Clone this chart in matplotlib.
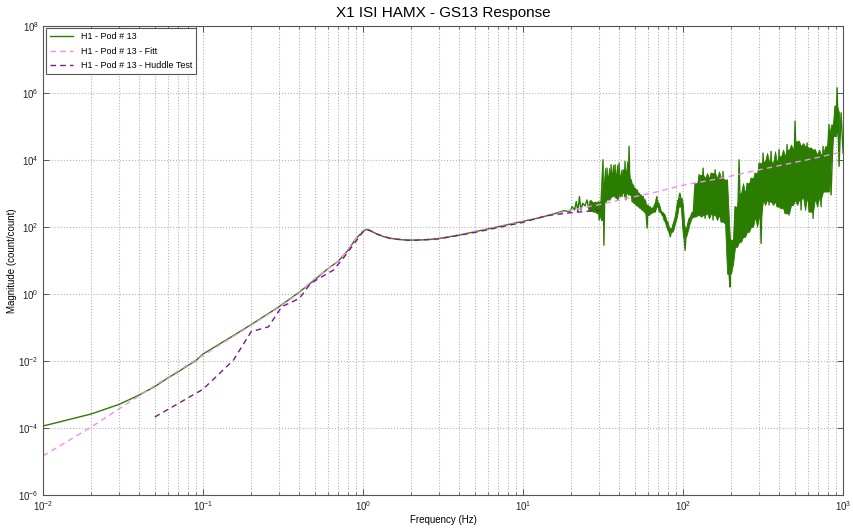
import numpy as np
import matplotlib
matplotlib.use('Agg')
from matplotlib import pyplot as plt
from matplotlib.ticker import LogLocator, LogFormatterSciNotation, NullFormatter

plt.rcParams['font.family'] = ['Liberation Sans', 'DejaVu Sans']
plt.rcParams['mathtext.default'] = 'regular'

# H1 - Pod 13 measured response, smooth part (Hz, log10 magnitude)
pod_freq = [0.01, 0.02, 0.03, 0.04, 0.05, 0.06, 0.07, 0.08, 0.09, 0.1,
            0.11, 0.13, 0.15, 0.2, 0.3, 0.4, 0.5, 0.6, 0.7, 0.8,
            0.9, 1.0, 1.05, 1.1, 1.2, 1.35, 1.5, 1.75, 2.0, 2.5,
            3.0, 4.0, 5.0, 7.0, 10.0, 13.0, 16.0, 18.0, 19.6, 20.3,
            21.0, 21.5, 22.0, 22.5, 23.0, 23.6]
pod_logmag = [-3.95, -3.59, -3.30, -3.02, -2.77, -2.52, -2.33, -2.15, -2.00, -1.80,
              -1.68, -1.47, -1.29, -0.92, -0.38, 0.05, 0.42, 0.74, 0.97, 1.28,
              1.64, 1.86, 1.92, 1.89, 1.80, 1.70, 1.65, 1.61, 1.60, 1.61,
              1.65, 1.75, 1.85, 2.00, 2.16, 2.28, 2.40, 2.48, 2.45, 2.60,
              2.50, 2.75, 2.45, 2.90, 2.50, 2.70]

# H1 - Pod 13 above ~24 Hz, where the measurement turns noisy
noise_freq = [24.4, 25.1, 25.9, 26.6, 27.4, 28.2, 29.0, 29.5, 29.9, 30.7,
              31.6, 32.0, 32.5, 33.0, 33.5, 34.0, 34.5, 35.0, 35.5, 36.0,
              36.5, 37.0, 37.6, 38.1, 38.7, 39.2, 39.8, 40.4, 41.0, 41.6,
              42.2, 42.8, 43.4, 44.0, 44.7, 45.3, 46.0, 46.6, 47.3, 48.0,
              48.7, 49.4, 50.1, 50.8, 51.6, 52.3, 53.1, 53.8, 54.6, 55.4,
              56.2, 57.0, 57.9, 58.7, 59.6, 60.4, 61.3, 62.2, 63.1, 64.9,
              66.8, 67.6, 68.5, 69.4, 70.5, 71.5, 72.8, 74.0, 75.5, 77.0,
              78.5, 80.0, 81.5, 83.2, 84.5, 86.0, 87.5, 89.0, 90.5, 92.0,
              93.8, 95.5, 97.0, 98.4, 100.0, 101.5, 103.0, 104.5, 106.0, 108.0,
              110.0, 113.0, 116.0, 118.9, 122.4, 125.9, 129.6, 133.4, 137.3, 141.3,
              145.4, 149.6, 154.0, 158.5, 163.1, 167.9, 172.8, 177.8, 183.0, 188.4,
              193.9, 196.5, 199.5, 205.4, 211.3, 217.5, 223.9, 230.4, 237.1, 244.0,
              251.2, 258.5, 266.1, 273.8, 281.8, 290.1, 298.5, 307.3, 316.2, 325.4,
              335.0, 344.7, 354.8, 365.2, 375.8, 386.8, 398.1, 409.7, 421.7, 434.0,
              446.7, 459.7, 473.2, 487.0, 501.2, 515.8, 530.9, 546.4, 562.3, 578.8,
              595.7, 613.1, 631.0, 649.4, 668.3, 687.9, 707.9, 728.6, 749.9, 771.8,
              794.3, 817.5, 841.4, 866.0, 891.3, 904.0, 917.3, 944.1, 971.6, 1000.0]
noise_logmag = [2.62, 2.80, 2.48, 2.78, 2.45, 2.72, 2.40, 2.75, 2.20, 2.70,
                4.00, 1.45, 3.30, 2.75, 3.75, 2.85, 3.50, 2.80, 3.85, 2.90,
                3.60, 2.95, 3.85, 2.85, 3.55, 2.80, 3.90, 3.00, 3.50, 2.90,
                3.70, 3.05, 3.95, 2.80, 3.60, 3.00, 4.40, 2.95, 3.40, 2.75,
                3.25, 2.70, 3.15, 2.65, 3.10, 2.60, 3.00, 2.55, 2.95, 2.50,
                2.90, 2.45, 2.80, 2.40, 1.96, 2.65, 2.35, 2.60, 2.40, 2.55,
                2.45, 2.75, 2.90, 2.70, 2.60, 2.45, 2.45, 2.35, 2.40, 2.20,
                2.15, 2.00, 1.90, 1.70, 1.85, 1.95, 2.10, 2.20, 2.35, 2.60,
                2.80, 3.00, 2.85, 2.60, 2.10, 1.70, 1.30, 1.80, 1.95, 2.10,
                2.25, 2.30, 2.45, 3.30, 2.30, 3.55, 2.35, 3.75, 2.25, 3.45,
                2.40, 3.60, 2.20, 3.70, 2.35, 3.45, 2.15, 3.65, 2.10, 3.40,
                0.60, 0.20, 1.60, 0.90, 2.60, 1.40, 4.00, 1.55, 3.00, 1.70,
                3.30, 1.85, 3.45, 2.00, 3.60, 2.30, 3.90, 1.50, 4.20, 2.80,
                3.95, 2.65, 4.25, 2.75, 3.90, 2.60, 4.30, 2.55, 4.10, 2.40,
                4.45, 2.35, 4.30, 2.65, 5.15, 2.80, 4.55, 2.50, 4.40, 2.90,
                4.50, 2.45, 4.35, 2.25, 4.30, 2.85, 4.15, 2.60, 4.40, 3.05,
                4.00, 5.05, 2.95, 4.70, 5.60, 4.95, 6.15, 3.80, 5.40, 4.20]

# Fitted model
fit_freq = [0.01, 0.02, 0.05, 0.1, 0.2, 0.3, 0.4, 0.5, 0.6, 0.7,
            0.8, 0.9, 1.0, 1.05, 1.1, 1.2, 1.35, 1.5, 2.0, 2.5,
            3.0, 5.0, 10.0, 20.0, 30.0, 50.0, 66.0, 100.0, 170.0, 300.0,
            434.0, 600.0, 1000.0]
fit_logmag = [-4.84, -3.98, -2.74, -1.84, -0.94, -0.40, 0.03, 0.45, 0.74, 0.98,
              1.28, 1.64, 1.87, 1.93, 1.90, 1.80, 1.70, 1.65, 1.60, 1.61,
              1.65, 1.85, 2.15, 2.50, 2.66, 2.90, 3.02, 3.24, 3.44, 3.70,
              3.86, 4.00, 4.24]

# Huddle test
huddle_freq = [0.05, 0.1, 0.13, 0.155, 0.2, 0.256, 0.31, 0.40, 0.47, 0.55,
               0.65, 0.75, 0.85, 1.0, 1.05, 1.1, 1.2, 1.5, 2.0, 3.0,
               5.0, 10.0, 14.0, 20.0, 25.0, 30.0]
huddle_logmag = [-3.68, -2.85, -2.33, -1.98, -1.13, -0.99, -0.39, -0.14, 0.31, 0.50,
                 0.70, 1.05, 1.40, 1.85, 1.92, 1.89, 1.79, 1.64, 1.59, 1.64,
                 1.83, 2.13, 2.33, 2.42, 2.46, 2.48]

green = '#2a7d00'
pink = '#f58cf5'
purple = '#7a1a80'
gridc = '#b4b4b4'

fig = plt.figure(figsize=(8.54, 5.29), dpi=100)
ax = fig.add_axes([0.0504, 0.0648, 0.9368, 0.8866])

pod_f = np.array(pod_freq + noise_freq)
pod_m = 10.0 ** np.array(pod_logmag + noise_logmag)
ax.plot(pod_f, pod_m, color=green, lw=1.0, label='H1 - Pod # 13')

# the noisy stretch is dense enough to read as a solid band: shade between
# the 2nd lowest and 2nd highest of each 5 neighbouring samples, so lone
# spikes stay thin lines
nf = np.array(noise_freq)
nm = np.array(noise_logmag)
win = np.sort(np.vstack([nm[k:len(nm) - 4 + k] for k in range(5)]), axis=0)
ax.fill_between(nf[2:-2], 10.0 ** win[1], 10.0 ** win[3],
                color=green, lw=0.6, edgecolor=green)

ax.plot(fit_freq, 10.0 ** np.array(fit_logmag), color=pink, lw=1.0,
        dashes=(4, 3), label='H1 - Pod # 13 - Fitt')
ax.plot(huddle_freq, 10.0 ** np.array(huddle_logmag), color=purple, lw=1.0,
        dashes=(4, 3), label='H1 - Pod # 13 - Huddle Test')

ax.set_xscale('log')
ax.set_yscale('log')
ax.set_xlim(1e-2, 1e3)
ax.set_ylim(1e-6, 1e8)

ax.xaxis.set_major_locator(LogLocator(base=10, numticks=10))
ax.xaxis.set_minor_locator(LogLocator(base=10, subs=np.arange(2, 10), numticks=20))
ax.xaxis.set_minor_formatter(NullFormatter())
ax.yaxis.set_major_locator(LogLocator(base=100, numticks=10))
ax.yaxis.set_minor_locator(LogLocator(base=100, subs=[], numticks=10))
ax.yaxis.set_major_formatter(LogFormatterSciNotation(base=10))
ax.yaxis.set_minor_formatter(NullFormatter())

ax.grid(True, which='major', axis='both', ls=':', color=gridc, lw=0.8)
ax.grid(True, which='minor', axis='x', ls=':', color=gridc, lw=0.8)
ax.set_axisbelow(True)

ax.tick_params(which='both', direction='in', top=True, right=True,
               labelsize=7, colors='#404040', labelcolor='#222222', pad=3)
ax.tick_params(which='major', length=4, width=0.6)
ax.tick_params(which='minor', length=2, width=0.5)
for s in ax.spines.values():
    s.set_color('#555555')
    s.set_linewidth(0.8)

ax.set_title('X1 ISI HAMX - GS13 Response', fontsize=11, pad=6)
ax.set_xlabel('Frequency (Hz)', fontsize=7, labelpad=2)
ax.set_ylabel('Magnitude (count/count)', fontsize=7, labelpad=1)

leg = ax.legend(loc='upper left', fontsize=6.5, fancybox=False, framealpha=1,
                edgecolor='#555555', handlelength=2.6, borderaxespad=0.3,
                labelspacing=0.6, borderpad=0.45)
leg.get_frame().set_linewidth(0.8)

fig.savefig('out.png', dpi=100)
